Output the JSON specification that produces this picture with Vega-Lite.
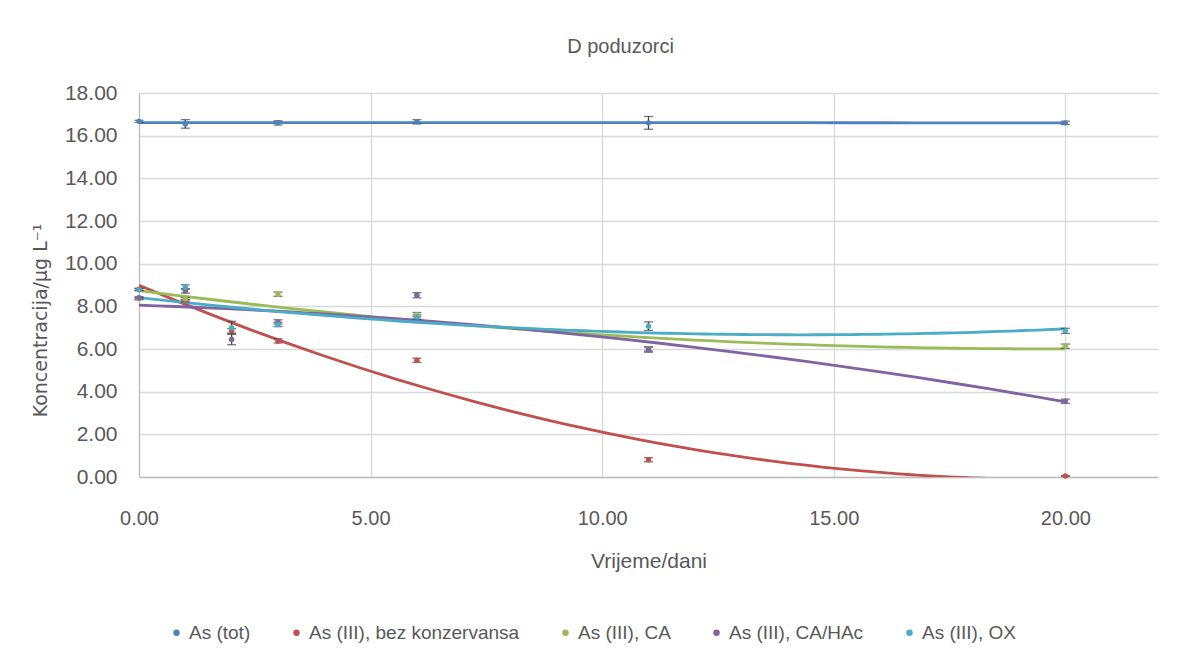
{
  "$schema": "https://vega.github.io/schema/vega-lite/v6.json",
  "width": 1019,
  "height": 384,
  "autosize": {"type": "none"},
  "padding": {"left": 139, "top": 93, "right": 30, "bottom": 182},
  "background": "white",
  "title": {"text": "D poduzorci", "fontSize": 20, "font": "Liberation Sans", "fontWeight": "normal", "color": "#595959", "offset": 25, "anchor": "middle", "dx": -28},
  "config": {
    "view": {"stroke": null},
    "axis": {"labelFont": "Liberation Sans", "labelColor": "#595959", "titleColor": "#595959", "gridColor": "#d9d9d9", "gridWidth": 1.3, "ticks": false, "domainColor": "#bfbfbf", "domainWidth": 1.3, "labelFlush": false}
  },
  "data": {"values": [
    {"s": "As (tot)", "t": 0, "v": 16.67, "err": 0.05},
    {"s": "As (tot)", "t": 1, "v": 16.55, "err": 0.2},
    {"s": "As (tot)", "t": 3, "v": 16.6, "err": 0.1},
    {"s": "As (tot)", "t": 6, "v": 16.65, "err": 0.1},
    {"s": "As (tot)", "t": 11, "v": 16.6, "err": 0.3},
    {"s": "As (tot)", "t": 20, "v": 16.6, "err": 0.08},
    {"s": "As (III), bez konzervansa", "t": 0, "v": 8.8, "err": 0.05},
    {"s": "As (III), bez konzervansa", "t": 1, "v": 8.25, "err": 0.05},
    {"s": "As (III), bez konzervansa", "t": 2, "v": 6.85, "err": 0.1},
    {"s": "As (III), bez konzervansa", "t": 3, "v": 6.38, "err": 0.1},
    {"s": "As (III), bez konzervansa", "t": 6, "v": 5.47, "err": 0.1},
    {"s": "As (III), bez konzervansa", "t": 11, "v": 0.81, "err": 0.1},
    {"s": "As (III), bez konzervansa", "t": 20, "v": 0.05, "err": 0.02},
    {"s": "As (III), CA", "t": 0, "v": 8.36, "err": 0.05},
    {"s": "As (III), CA", "t": 1, "v": 8.36, "err": 0.05},
    {"s": "As (III), CA", "t": 3, "v": 8.57, "err": 0.1},
    {"s": "As (III), CA", "t": 6, "v": 7.61, "err": 0.1},
    {"s": "As (III), CA", "t": 11, "v": 6.0, "err": 0.1},
    {"s": "As (III), CA", "t": 20, "v": 6.13, "err": 0.1},
    {"s": "As (III), CA/HAc", "t": 0, "v": 8.4, "err": 0.05},
    {"s": "As (III), CA/HAc", "t": 1, "v": 8.72, "err": 0.1},
    {"s": "As (III), CA/HAc", "t": 2, "v": 6.45, "err": 0.25},
    {"s": "As (III), CA/HAc", "t": 3, "v": 7.27, "err": 0.1},
    {"s": "As (III), CA/HAc", "t": 6, "v": 8.52, "err": 0.12},
    {"s": "As (III), CA/HAc", "t": 11, "v": 5.97, "err": 0.12},
    {"s": "As (III), CA/HAc", "t": 20, "v": 3.55, "err": 0.1},
    {"s": "As (III), OX", "t": 0, "v": 8.78, "err": 0.05},
    {"s": "As (III), OX", "t": 1, "v": 8.91, "err": 0.1},
    {"s": "As (III), OX", "t": 2, "v": 7.0, "err": 0.3},
    {"s": "As (III), OX", "t": 3, "v": 7.15, "err": 0.1},
    {"s": "As (III), OX", "t": 6, "v": 7.5, "err": 0.1},
    {"s": "As (III), OX", "t": 11, "v": 7.07, "err": 0.2},
    {"s": "As (III), OX", "t": 20, "v": 6.85, "err": 0.12}
  ]},
  "encoding": {
    "x": {"field": "t", "type": "quantitative", "scale": {"domain": [0, 22], "nice": false, "zero": false},
      "axis": {"values": [0, 5, 10, 15, 20], "format": ".2f", "labelFontSize": 20, "labelPadding": 31, "title": "Vrijeme/dani", "titleFont": "Liberation Sans", "titleFontSize": 21, "titleFontWeight": "normal", "titlePadding": 22}},
    "y": {"field": "v", "type": "quantitative", "scale": {"domain": [0, 18], "nice": false},
      "axis": {"values": [0, 2, 4, 6, 8, 10, 12, 14, 16, 18], "format": ".2f", "labelFontSize": 21, "labelPadding": 22, "title": "Koncentracija/µg L⁻¹", "titleFont": "DejaVu Sans", "titleFontSize": 19, "titleFontWeight": "normal", "titleX": -99, "titleY": 227, "titleAngle": -90, "titleAlign": "center", "titleBaseline": "middle"}},
    "color": {"field": "s", "type": "nominal",
      "scale": {"domain": ["As (tot)", "As (III), bez konzervansa", "As (III), CA", "As (III), CA/HAc", "As (III), OX"], "range": ["#4F81BD", "#C0504D", "#9BBB59", "#8064A2", "#4BACC6"]},
      "legend": {"title": null, "orient": "none", "direction": "horizontal", "legendX": 28, "legendY": 530, "symbolType": "circle", "symbolSize": 25, "labelFont": "Liberation Sans", "labelFontSize": 19, "labelColor": "#595959", "labelLimit": 500, "columnPadding": 36, "symbolOffset": 0, "labelOffset": 3}}
  },
  "layer": [
    {
      "transform": [{"regression": "v", "on": "t", "groupby": ["s"], "method": "poly", "order": 2}],
      "mark": {"type": "line", "strokeWidth": 2.8, "clip": true}
    },
    {
      "mark": {"type": "errorbar", "ticks": {"size": 9, "color": "#404040"}, "rule": {"color": "#404040"}, "thickness": 1.3},
      "encoding": {"yError": {"field": "err"}, "color": {"value": "#404040"}}
    },
    {
      "mark": {"type": "point", "shape": "circle", "filled": true, "size": 30, "opacity": 1}
    }
  ]
}
